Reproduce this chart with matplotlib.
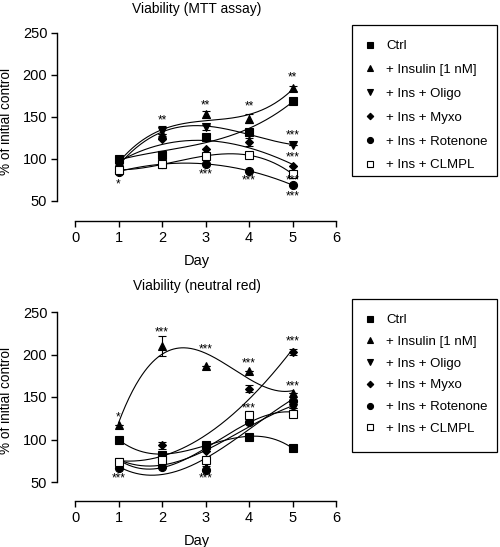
import numpy as np
import matplotlib
matplotlib.use("Agg")
import matplotlib.pyplot as plt
from matplotlib.patches import Rectangle

plt.rcParams['font.family'] = ['Liberation Sans', 'DejaVu Sans']

days = [1, 2, 3, 4, 5]
labels = ['Ctrl', '+ Insulin [1 nM]', '+ Ins + Oligo', '+ Ins + Myxo', '+ Ins + Rotenone', '+ Ins + CLMPL']
markers = ['s', '^', 'v', 'D', 'o', 's']
faces = ['black', 'black', 'black', 'black', 'black', 'white']
msizes = [5.8, 6.3, 6.3, 4.4, 5.8, 5.8]

# MTT assay
mtt_ctrl = [100, 105, 126, 132, 169]
mtt_ins = [97, 130, 153, 148, 184]
mtt_oligo = [92, 133, 138, 130, 117]
mtt_myxo = [95, 124, 112, 120, 92]
mtt_rot = [85, 94, 94, 86, 69]
mtt_clmpl = [87, 94, 103, 105, 82]
mtt_err_ctrl = [0, 4, 0, 3, 0]
mtt_err_ins = [0, 0, 4, 5, 3]
mtt_err_oligo = [0, 6, 3, 0, 0]
mtt_err_myxo = [0, 0, 0, 5, 0]
mtt_err_rot = [0, 5, 0, 0, 0]
mtt_err_clmpl = [0, 0, 4, 3, 4]

# Neutral red
nr_ctrl = [100, 82, 94, 103, 90]
nr_ins = [117, 210, 187, 181, 155]
nr_oligo = [74, 80, 72, 125, 137]
nr_myxo = [72, 93, 86, 160, 203]
nr_rot = [66, 68, 64, 121, 145]
nr_clmpl = [74, 76, 76, 129, 130]
nr_err_ctrl = [0, 3, 0, 0, 0]
nr_err_ins = [0, 12, 0, 0, 0]
nr_err_oligo = [0, 0, 3, 5, 0]
nr_err_myxo = [0, 4, 0, 4, 4]
nr_err_rot = [0, 0, 0, 0, 0]
nr_err_clmpl = [0, 0, 0, 5, 4]

# significance marks: (day, y, text)
mtt_sig = [(1, 70, '*'), (2, 146, '**'), (3, 164, '**'), (4, 162, '**'), (5, 197, '**'),
           (5, 128, '***'), (5, 102, '***'), (5, 75, '***'), (5, 56, '***'),
           (3, 82, '***'), (4, 74, '***')]
nr_sig = [(1, 126, '*'), (2, 226, '***'), (3, 206, '***'), (4, 189, '***'), (4, 137, '***'),
          (5, 215, '***'), (5, 162, '***'), (1, 54, '***'), (3, 54, '***')]

mtt = [mtt_ctrl, mtt_ins, mtt_oligo, mtt_myxo, mtt_rot, mtt_clmpl]
mtt_err = [mtt_err_ctrl, mtt_err_ins, mtt_err_oligo, mtt_err_myxo, mtt_err_rot, mtt_err_clmpl]
nr = [nr_ctrl, nr_ins, nr_oligo, nr_myxo, nr_rot, nr_clmpl]
nr_err = [nr_err_ctrl, nr_err_ins, nr_err_oligo, nr_err_myxo, nr_err_rot, nr_err_clmpl]

W, H = 500, 547
fig = plt.figure(figsize=(5, 5.47), dpi=100)


def make_axes(px_bottom, px_top, ybot):
    left, right = 57, 336
    ax = fig.add_axes([left / W, 1 - px_bottom / H, (right - left) / W, (px_bottom - px_top) / H])
    ax.set_xlim((57 - 75) / 43.5, 6)
    ax.set_ylim(ybot, 250)
    return ax


def draw(ax, data, errs, sig, title, title_y):
    xs = np.linspace(1, 5, 200)
    handles = []
    for vals, err, m, fc, ms, lab in zip(data, errs, markers, faces, msizes, labels):
        coef = np.polyfit(days, vals, 3)
        ax.plot(xs, np.polyval(coef, xs), color='black', lw=0.8, zorder=2)
        e = np.array(err, dtype=float)
        ax.errorbar(days, vals, yerr=e, fmt='none', ecolor='black', elinewidth=0.8,
                    capsize=3, capthick=0.8, zorder=3)
        h, = ax.plot(days, vals, linestyle='none', marker=m, markersize=ms,
                     markerfacecolor=fc, markeredgecolor='black', markeredgewidth=0.8,
                     zorder=4, label=lab)
        handles.append(h)
    for d, y, t in sig:
        ax.text(d, y, t, ha='center', va='center', fontsize=8.5, zorder=5)
    for s in ['top', 'right']:
        ax.spines[s].set_visible(False)
    ax.spines['left'].set_bounds(50, 250)
    ax.spines['bottom'].set_bounds(0, 6)
    ax.spines['left'].set_linewidth(1.0)
    ax.spines['bottom'].set_linewidth(1.0)
    ax.set_yticks([50, 100, 150, 200, 250])
    ax.set_xticks([0, 1, 2, 3, 4, 5, 6])
    ax.tick_params(axis='both', direction='out', length=4, width=1.0, labelsize=10.5, pad=3)
    ax.set_xlabel('Day', fontsize=10.5, labelpad=7)
    ax.set_ylabel('% of initial control', fontsize=9.8)
    ax.yaxis.set_label_coords(-0.158, 0.53)
    ax.set_title(title, fontsize=10, pad=0, y=title_y)
    return handles


ax1 = make_axes(221, 33, 50 - (221 - 201) / 0.84)
h1 = draw(ax1, mtt, mtt_err, mtt_sig, 'Viability (MTT assay)', 1.105)

ax2 = make_axes(501, 312, 50 - (501 - 482) / 0.85)
h2 = draw(ax2, nr, nr_err, nr_sig, 'Viability (neutral red)', 1.115)


def legend_box(handles, px_top, px_bottom, spacing):
    fig.add_artist(Rectangle((352 / W, 1 - px_bottom / H), (497 - 352) / W, (px_bottom - px_top) / H,
                             transform=fig.transFigure, fill=False, edgecolor='black', lw=0.9))
    leg = fig.legend(handles=handles, loc='upper left',
                     bbox_to_anchor=(359 / W, 1 - (px_top + 11) / H), frameon=False,
                     fontsize=9.5, handlelength=1.0, handletextpad=0.75, markerscale=0.75,
                     labelspacing=spacing, borderaxespad=0, borderpad=0.3)
    return leg


legend_box(h1, 25, 176, 0.88)
legend_box(h2, 299, 452, 0.72)

fig.savefig('out.png', dpi=100)
